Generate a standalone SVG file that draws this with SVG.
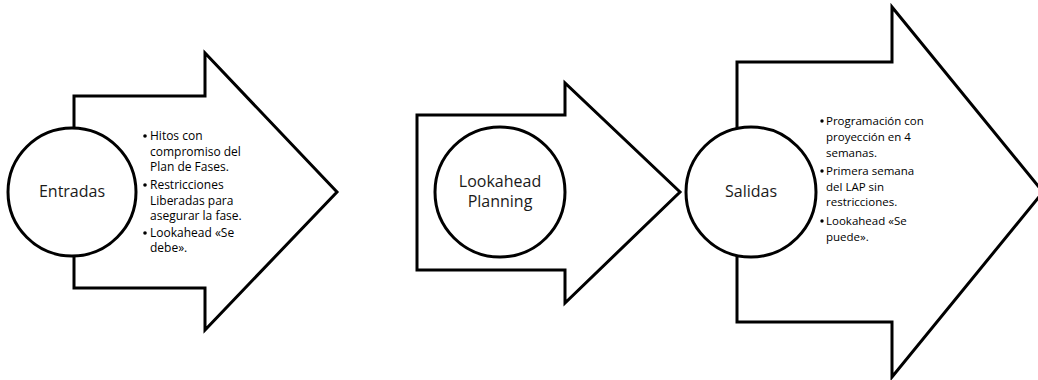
<svg xmlns="http://www.w3.org/2000/svg" width="1038" height="380" viewBox="0 0 1038 380">
  <style>
    .arrow { fill: #ffffff; stroke: #000000; stroke-width: 3; stroke-linejoin: miter; }
    .disc { fill: #ffffff; stroke: #000000; stroke-width: 3; }
    .title { font-family: "Open Sans", "Liberation Sans", sans-serif; font-size: 16px; fill: #1a1a1a; text-anchor: middle; }
    .item { font-family: "Open Sans", "Liberation Sans", sans-serif; font-size: 12px; fill: #000000; }
    .dot { fill: #000000; }
  </style>
  <rect width="1038" height="380" fill="#ffffff"/>

  <!-- Stage 1: inputs -->
  <g id="entradas">
    <polygon class="arrow" points="74,96 205,96 205,53 337,192 205,330 205,288 74,288"/>
    <circle class="disc" cx="72" cy="192" r="64"/>
    <text class="title" x="72" y="197">Entradas</text>
    <g class="item">
      <circle class="dot" cx="145" cy="136" r="1.8"/>
      <text x="150" y="140">Hitos con</text>
      <text x="150" y="156">compromiso del</text>
      <text x="150" y="171">Plan de Fases.</text>
      <circle class="dot" cx="145" cy="185" r="1.8"/>
      <text x="150" y="189">Restricciones</text>
      <text x="150" y="205">Liberadas para</text>
      <text x="150" y="220">asegurar la fase.</text>
      <circle class="dot" cx="145" cy="233" r="1.8"/>
      <text x="150" y="237">Lookahead «Se</text>
      <text x="150" y="252">debe».</text>
    </g>
  </g>

  <!-- Stage 2: process -->
  <g id="lookahead-planning">
    <polygon class="arrow" points="417,115 565,115 565,83 680,192 565,303 565,270 417,270"/>
    <circle class="disc" cx="500" cy="192" r="65"/>
    <text class="title" x="500" y="187">Lookahead</text>
    <text class="title" x="500" y="207">Planning</text>
  </g>

  <!-- Stage 3: outputs -->
  <g id="salidas">
    <polygon class="arrow" points="737,62 892,62 892,7 1043,192 892,377 892,322 737,322"/>
    <circle class="disc" cx="751" cy="192" r="65"/>
    <text class="title" x="751" y="197">Salidas</text>
    <g class="item" style="font-size:11.5px">
      <circle class="dot" cx="822" cy="121" r="1.7"/>
      <text x="826" y="125">Programación con</text>
      <text x="826" y="141">proyección en 4</text>
      <text x="826" y="157">semanas.</text>
      <circle class="dot" cx="822" cy="171" r="1.7"/>
      <text x="826" y="175">Primera semana</text>
      <text x="826" y="191">del LAP sin</text>
      <text x="826" y="206">restricciones.</text>
      <circle class="dot" cx="822" cy="221" r="1.7"/>
      <text x="826" y="225">Lookahead «Se</text>
      <text x="826" y="241">puede».</text>
    </g>
  </g>
</svg>
